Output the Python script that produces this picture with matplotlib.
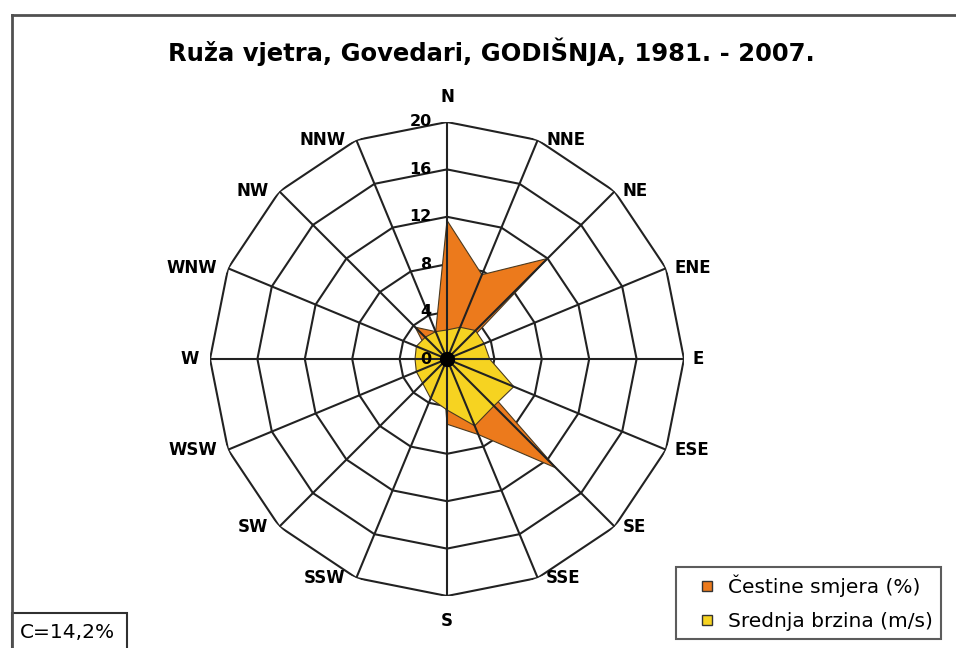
import numpy as np
import matplotlib
matplotlib.use("Agg")
import matplotlib.pyplot as plt
from matplotlib.lines import Line2D
from matplotlib.patches import Rectangle

plt.rcParams['font.family'] = ['DejaVu Sans']

# ---- data ----
directions = ['N', 'NNE', 'NE', 'ENE', 'E', 'ESE', 'SE', 'SSE',
              'S', 'SSW', 'SW', 'WSW', 'W', 'WNW', 'NW', 'NNW']
freq = [11.7, 7.7, 12.0, 0.8, 2.0, 2.0, 13.0, 6.9,
        5.5, 0.9, 2.0, 1.5, 2.0, 1.8, 3.8, 2.5]          # Čestine smjera (%)
speed = [2.45, 2.9, 3.4, 3.4, 3.6, 6.1, 5.6, 6.1,
         4.3, 3.6, 2.9, 2.8, 2.7, 2.8, 2.6, 2.5]          # Srednja brzina (m/s)
rings = [4, 8, 12, 16, 20]
rtick_labels = ['0', '4', '8', '12', '16', '20']
title = 'Ruža vjetra, Govedari, GODIŠNJA, 1981. - 2007.'
calm = 'C=14,2%'
legend_labels = ['Čestine smjera (%)', 'Srednja brzina (m/s)']

ORANGE = '#EC7A1C'
YELLOW = '#F6D321'
GRID = '#222222'
EDGE = '#4a3a20'

W, H = 956, 648
fig = plt.figure(figsize=(W / 100, H / 100), dpi=100)

cx, cy, R = 447, 359, 237
ax = fig.add_axes([(cx - R) / W, (H - cy - R) / H, 2 * R / W, 2 * R / H],
                  projection='polar')
ax.set_theta_zero_location('N')
ax.set_theta_direction(-1)
ax.set_rlim(0, 20)
ax.grid(False)
ax.set_xticks([])
ax.set_yticks([])
ax.spines['polar'].set_visible(False)
ax.patch.set_alpha(0)

n = len(directions)
theta = np.arange(n) * 2 * np.pi / n
tc = np.append(theta, theta[0])

# rings (polygonal)
for v in rings:
    ax.plot(tc, [v] * (n + 1), color=GRID, lw=1.5, zorder=1)

# series
ax.fill(tc, np.append(freq, freq[0]), facecolor=ORANGE, edgecolor=EDGE,
        lw=0.8, zorder=2)
ax.fill(tc, np.append(speed, speed[0]), facecolor=YELLOW, edgecolor=EDGE,
        lw=0.8, zorder=3)

# spokes on top
for t in theta:
    ax.plot([t, t], [0, 20], color=GRID, lw=1.5, zorder=4)

ax.plot([0], [0], 'o', color='black', ms=10, zorder=6)

# radial tick labels
for v, lab in zip([0] + rings, rtick_labels):
    ax.annotate(lab, xy=(0, v), xytext=(-11, 0), textcoords='offset points',
                ha='right', va='center', fontsize=11.5, fontweight='bold',
                zorder=7)

# direction labels
for t, lab in zip(theta, directions):
    s = np.sin(t)
    c = np.cos(t)
    if abs(s) < 1e-6:
        off = (0, 18 if c > 0 else -18)
        ha = 'center'
    elif s > 0:
        off = (6, 0)
        ha = 'left'
    else:
        off = (-8, 0)
        ha = 'right'
    ax.annotate(lab, xy=(t, 20), xytext=off, textcoords='offset points',
                ha=ha, va='center', fontsize=12, fontweight='bold')

# title
fig.text(491 / W, 1 - 52 / H, title, ha='center', va='center',
         fontsize=17.5, fontweight='bold')

# outer frame
fig.add_artist(Line2D([12 / W, 1], [1 - 15 / H, 1 - 15 / H],
                      transform=fig.transFigure, color='#505050', lw=2))
fig.add_artist(Line2D([12 / W, 12 / W], [0, 1 - 15 / H],
                      transform=fig.transFigure, color='#505050', lw=2))

# calm box
fig.add_artist(Rectangle((12 / W, -0.01), 115 / W, 0.01 + 35 / H,
                         transform=fig.transFigure, fc='white',
                         ec='#303030', lw=1.5))
fig.text(67 / W, 1 - 632 / H, calm, ha='center', va='center', fontsize=14.5)

# legend
handles = [Line2D([], [], ls='', marker='s', ms=7, mfc=ORANGE, mec='#333333'),
           Line2D([], [], ls='', marker='s', ms=7, mfc=YELLOW, mec='#333333')]
leg = fig.legend(handles, legend_labels, loc='lower right',
                 bbox_to_anchor=(941 / W, 1 - 639 / H), fontsize=14.5,
                 frameon=True, fancybox=False, edgecolor='#333333',
                 handlelength=2.3, handletextpad=-0.1, borderpad=0.4,
                 labelspacing=0.72, borderaxespad=0)
leg.get_frame().set_linewidth(1.5)

fig.savefig('out.png', dpi=100)
